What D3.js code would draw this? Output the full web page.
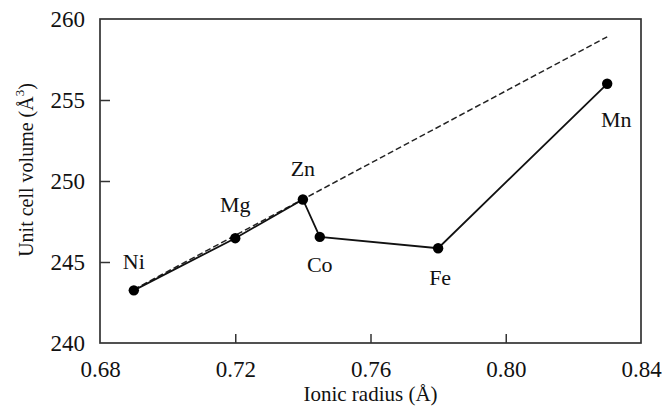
<!DOCTYPE html>
<html>
<head>
<meta charset="utf-8">
<script src="https://cdn.jsdelivr.net/npm/d3@7"></script>
<style>
  body { margin: 0; background: #fff; }
  svg text { font-family: "Liberation Serif", "DejaVu Serif", "Times New Roman", serif !important; }
</style>
</head>
<body>
<script>
// data
var elements = ['Ni', 'Mg', 'Zn', 'Co', 'Fe', 'Mn'];
var radius = [0.69, 0.72, 0.74, 0.745, 0.78, 0.83];
var volume = [243.25, 246.47, 248.86, 246.55, 245.85, 256.0];
// dashed trend line end points
var trendX = [0.69, 0.83];
var trendY = [243.3, 258.9];
var xTicks = [0.68, 0.72, 0.76, 0.80, 0.84];
var yTicks = [240, 245, 250, 255, 260];

var width = 662, height = 412;
var margin = {top: 19, right: 21, bottom: 69, left: 100};

var svg = d3.select('body').append('svg')
  .attr('width', width)
  .attr('height', height);

var x = d3.scaleLinear().domain([0.68, 0.84]).range([margin.left, width - margin.right]);
var y = d3.scaleLinear().domain([240, 260]).range([height - margin.bottom, margin.top]);

// frame
svg.append('rect')
  .attr('x', x(0.68)).attr('y', y(260))
  .attr('width', x(0.84) - x(0.68))
  .attr('height', y(240) - y(260))
  .attr('fill', 'none')
  .attr('stroke', '#333')
  .attr('stroke-width', 1.7);

var xAxis = d3.axisBottom(x).tickValues(xTicks).tickFormat(d3.format('.2f'))
  .tickSizeInner(-9).tickSizeOuter(0).tickPadding(18);
var gx = svg.append('g').attr('transform', 'translate(0,' + y(240) + ')').call(xAxis)
  .attr('font-size', 23);
gx.select('.domain').remove();
gx.selectAll('.tick line').attr('stroke', '#333').attr('stroke-width', 1.5)
  .filter(function(d) { return d == 0.68 || d == 0.84; }).remove();
gx.selectAll('text').attr('fill', '#111');

var yAxis = d3.axisLeft(y).tickValues(yTicks).tickFormat(d3.format('d'))
  .tickSizeInner(-10).tickSizeOuter(0).tickPadding(15);
var gy = svg.append('g').attr('transform', 'translate(' + x(0.68) + ',0)').call(yAxis)
  .attr('font-size', 23);
gy.select('.domain').remove();
gy.selectAll('.tick line').attr('stroke', '#333').attr('stroke-width', 1.5)
  .filter(function(d) { return d == 240 || d == 260; }).remove();
gy.selectAll('text').attr('fill', '#111').attr('dy', '0.34em');

// axis titles
svg.append('text')
  .attr('x', (x(0.68) + x(0.84)) / 2)
  .attr('y', 401)
  .attr('text-anchor', 'middle')
  .attr('fill', '#111')
  .attr('font-size', 21)
  .text('Ionic radius (Å)');

var yl = svg.append('text')
  .attr('transform', 'translate(33,170) rotate(-90)')
  .attr('text-anchor', 'middle')
  .attr('fill', '#111')
  .attr('font-size', 20);
yl.append('tspan').text('Unit cell volume (Å');
yl.append('tspan').attr('dy', -9).attr('font-size', 13).text('3');
yl.append('tspan').attr('dy', 9).text(')');

var pts = elements.map(function(e, i) { return [radius[i], volume[i], e]; });

// dashed trend
svg.append('path')
  .datum(trendX.map(function(d, i) { return [d, trendY[i]]; }))
  .attr('fill', 'none')
  .attr('stroke', '#222')
  .attr('stroke-width', 1.5)
  .attr('stroke-dasharray', '6,3')
  .attr('d', d3.line().x(function(d) { return x(d[0]); }).y(function(d) { return y(d[1]); }));

// data line
svg.append('path')
  .datum(pts)
  .attr('fill', 'none')
  .attr('stroke', '#111')
  .attr('stroke-width', 1.8)
  .attr('d', d3.line().x(function(d) { return x(d[0]); }).y(function(d) { return y(d[1]); }));

svg.selectAll('circle.pt').data(pts).enter().append('circle')
  .attr('class', 'pt')
  .attr('cx', function(d) { return x(d[0]); })
  .attr('cy', function(d) { return y(d[1]); })
  .attr('r', 5.2)
  .attr('fill', '#000');

// label offsets (dx, dy) relative to point
var labelOff = {Ni: [0, -21], Mg: [0, -26], Zn: [0, -23], Co: [0, 35], Fe: [2, 37], Mn: [9, 43]};
svg.selectAll('text.lbl').data(pts).enter().append('text')
  .attr('class', 'lbl')
  .attr('x', function(d) { return x(d[0]) + labelOff[d[2]][0]; })
  .attr('y', function(d) { return y(d[1]) + labelOff[d[2]][1]; })
  .attr('text-anchor', 'middle')
  .attr('fill', '#111')
  .attr('font-size', 22)
  .text(function(d) { return d[2]; });
</script>
</body>
</html>
